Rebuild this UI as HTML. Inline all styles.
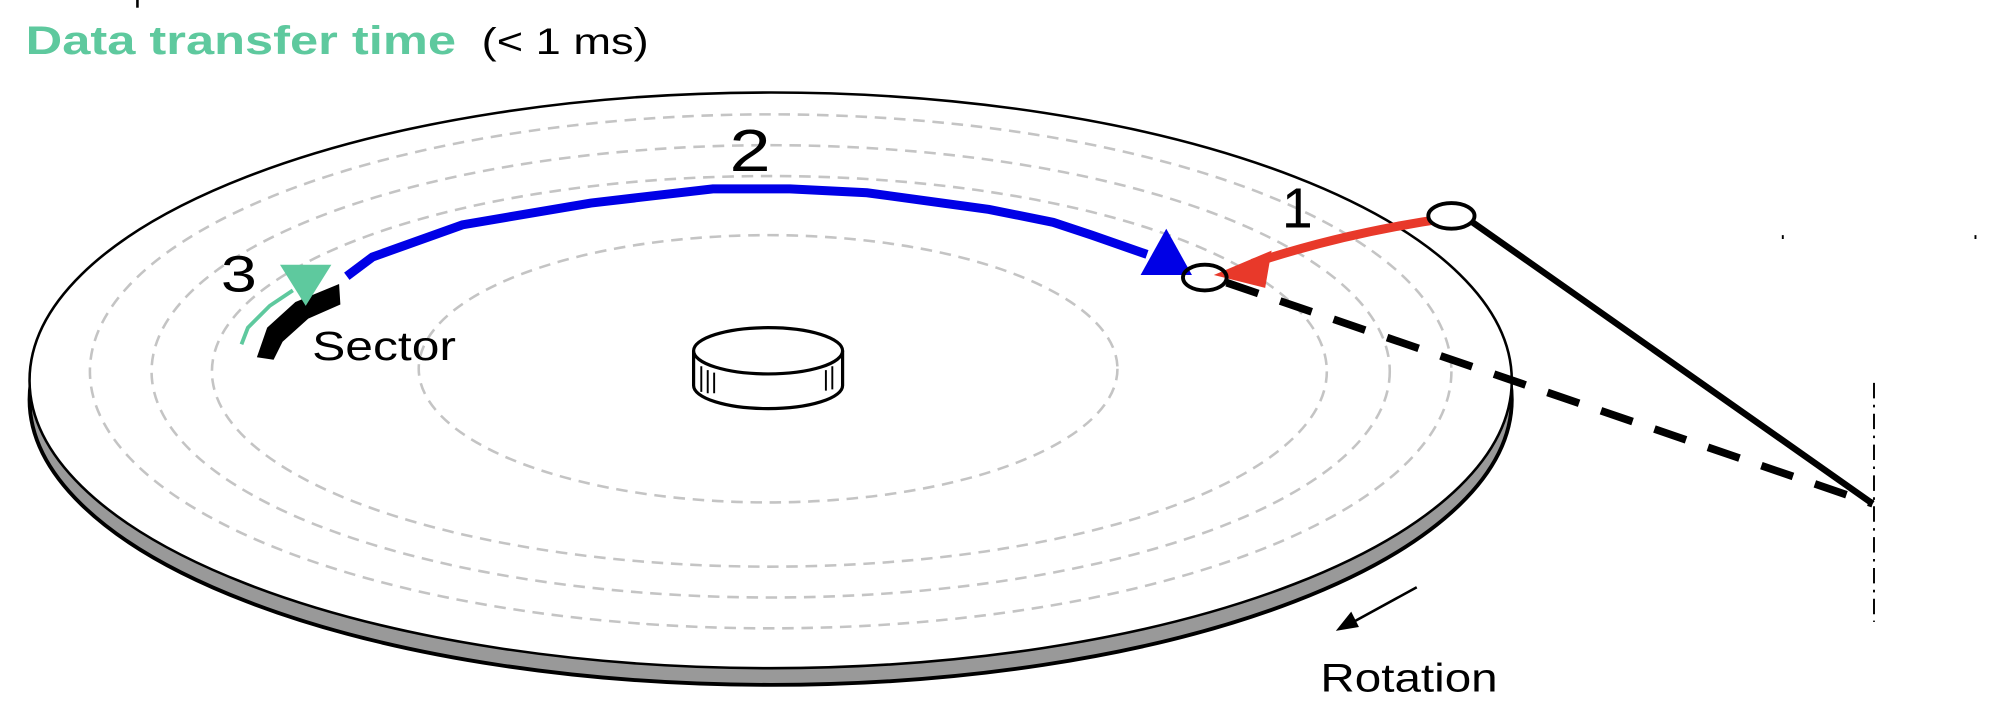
<!DOCTYPE html>
<html><head><meta charset="utf-8"><style>
html,body{margin:0;padding:0;background:#fff;overflow:hidden}
svg{display:block}
text{font-family:"Liberation Sans",sans-serif}
</style></head><body>
<svg width="2014" height="726" viewBox="0 0 1568 565" preserveAspectRatio="none">
<line x1="107" y1="0" x2="107" y2="6" stroke="#000" stroke-width="2"/>
<text x="20" y="42" font-size="31" font-weight="bold" fill="#5ec99e" textLength="335" lengthAdjust="spacingAndGlyphs">Data transfer time</text>
<text x="375" y="42" font-size="29" fill="#000" textLength="130" lengthAdjust="spacingAndGlyphs">(&lt; 1 ms)</text>
<g>
<ellipse cx="600" cy="311" rx="577" ry="222" fill="#999" stroke="#000" stroke-width="3"/>
<ellipse cx="600" cy="296" rx="577" ry="224" fill="#fff" stroke="#000" stroke-width="2"/>
</g>
<g fill="none" stroke="#c4c4c4" stroke-width="2" stroke-dasharray="9 6">
<ellipse cx="598" cy="287" rx="272" ry="104"/>
<ellipse cx="599" cy="289" rx="434" ry="152"/>
<ellipse cx="600" cy="289" rx="482" ry="176"/>
<ellipse cx="600" cy="289" rx="530" ry="200"/>
</g>
<g>
<path d="M540 273 L540 300 A58 18 0 0 0 656 300 L656 273" fill="#fff" stroke="#000" stroke-width="2.5"/>
<path d="M546 285v20M551 288v18M556 290v16M648 285v18M643 288v16" stroke="#000" stroke-width="1.5"/>
<ellipse cx="598" cy="273" rx="58" ry="18" fill="#fff" stroke="#000" stroke-width="2.5"/>
</g>
<polyline points="270,215 290,200 360,175 460,158 555,147 615,147 675,150 770,163 820,173 850,183 893,198" fill="none" stroke="#0000e6" stroke-width="7"/>
<polygon points="908,178 888,214 928,214" fill="#0000e6"/>
<path d="M1125 170 C1070 178 1020 190 975 205" fill="none" stroke="#e8392a" stroke-width="7"/>
<polygon points="945,214 990,195 985,224" fill="#e8392a"/>
<ellipse cx="938" cy="216" rx="17" ry="10" fill="none" stroke="#000" stroke-width="3"/>
<ellipse cx="1130" cy="168" rx="18" ry="10" fill="#fff" stroke="#000" stroke-width="3"/>
<line x1="1145" y1="172" x2="1458" y2="392" stroke="#000" stroke-width="5"/>
<line x1="955" y1="220" x2="1458" y2="392" stroke="#000" stroke-width="6" stroke-dasharray="26 18"/>
<line x1="1459" y1="298" x2="1459" y2="484" stroke="#000" stroke-width="1.5" stroke-dasharray="12 5 2 5"/>
<path d="M1388 183v3M1538 183v3" stroke="#000" stroke-width="1.5"/>
<path d="M200 278 L208 255 L230 235 L264 221 L265 237 L240 248 L220 266 L213 280 Z" fill="#000"/>
<path d="M188 268 L193 255 L210 238 L228 226" fill="none" stroke="#5ec99e" stroke-width="3"/>
<polygon points="218,206 258,206 238,238" fill="#5ec99e"/>
<text x="172" y="227" font-size="40" textLength="28" lengthAdjust="spacingAndGlyphs">3</text>
<text x="243" y="280" font-size="32" textLength="112" lengthAdjust="spacingAndGlyphs">Sector</text>
<text x="568" y="133" font-size="46" textLength="32" lengthAdjust="spacingAndGlyphs">2</text>
<text x="998" y="177" font-size="44" textLength="24" lengthAdjust="spacingAndGlyphs">1</text>
<line x1="1103" y1="457" x2="1050" y2="486" stroke="#000" stroke-width="2"/>
<polygon points="1040,491 1052,476 1058,488" fill="#000"/>
<text x="1028" y="538" font-size="31" textLength="138" lengthAdjust="spacingAndGlyphs">Rotation</text>
</svg>
</body></html>
